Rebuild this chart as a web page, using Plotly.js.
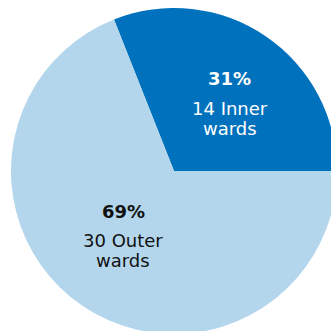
<!DOCTYPE html>
<html><head><meta charset="utf-8">
<script src="https://cdn.plot.ly/plotly-3.0.1.min.js"></script>
<style>
html,body{margin:0;padding:0;overflow:hidden;background:#fff;width:331px;height:331px}
#chart{width:345px;height:345px}
</style>
</head><body><div id="chart"></div>
<script>
const categories = ['Inner', 'Outer'];
const wardCounts = [14, 30];
const percents = [31, 69];
const unitLabel = 'wards';

const W = 345;
const sliceColors = ['#0071bc', '#b3d6ec'];
const textColors = ['#ffffff', '#111111'];
// label anchor points (px in the 345 canvas)
const labelPos = [{x: 229.5, y: [78, 108.5, 128.5]}, {x: 123, y: [211.5, 240.5, 260]}];

const trace = {
  type: 'pie',
  values: percents,
  labels: categories,
  sort: false,
  direction: 'clockwise',
  rotation: -21.6,
  textinfo: 'none',
  hoverinfo: 'none',
  marker: {colors: sliceColors, line: {width: 0}},
  domain: {x: [11 / W, 337 / W], y: [11 / W, 337 / W]},
  showlegend: false
};

const annotations = [];
categories.forEach((c, i) => {
  const lines = [percents[i] + '%', wardCounts[i] + ' ' + c, unitLabel];
  lines.forEach((t, j) => {
    annotations.push({
      xref: 'paper', yref: 'paper',
      x: labelPos[i].x / W, y: 1 - labelPos[i].y[j] / W,
      xanchor: 'center', yanchor: 'middle',
      showarrow: false,
      text: j === 0 ? '<b>' + t + '</b>' : t,
      font: {family: 'DejaVu Sans', size: 18, color: textColors[i]}
    });
  });
});

Plotly.newPlot('chart', [trace], {
  width: W, height: W,
  margin: {l: 0, r: 0, t: 0, b: 0},
  paper_bgcolor: '#ffffff',
  annotations: annotations
}, {staticPlot: true, displayModeBar: false});
</script>
</body></html>
